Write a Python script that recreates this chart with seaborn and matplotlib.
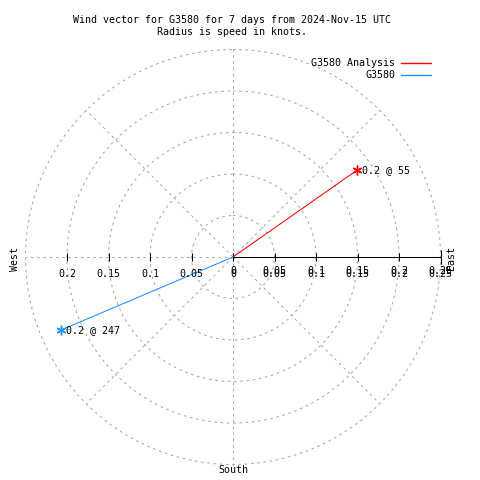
import numpy as np
import pandas as pd
import matplotlib
matplotlib.use("Agg")
import matplotlib.pyplot as plt
import seaborn as sns
from matplotlib.lines import Line2D

# ---- data ----
series = ["G3580 Analysis", "G3580"]
directions = [55, 247]          # degrees, compass
speeds = [0.183, 0.225]         # knots
point_labels = ["0.2 @ 55", "0.2 @ 247"]
colors = ["#ff0000", "#1e90ff"]
ring_values = [0.05, 0.1, 0.15, 0.2, 0.25]
tick_labels_east = ["0", "0.05", "0.1", "0.15", "0.2", "0.25"]
tick_labels_west = ["0", "0.05", "0.1", "0.15", "0.2"]
title = "Wind vector for G3580 for 7 days from 2024-Nov-15 UTC\nRadius is speed in knots."

sns.set_style("white")
plt.rcParams["font.family"] = ["DejaVu Sans Mono"]
plt.rcParams["text.color"] = "black"
FS = 7.2

fig = plt.figure(figsize=(4.8, 4.8), dpi=100)
cx, cy, R = 233, 257, 207.5
ax = fig.add_axes([(cx - R) / 480, (480 - cy - R) / 480, 2 * R / 480, 2 * R / 480],
                  projection="polar")
ax.set_theta_zero_location("N")
ax.set_theta_direction(-1)
ax.set_ylim(0, 0.25)
ax.grid(False)
ax.set_xticks([])
ax.set_yticks([])
ax.spines["polar"].set_visible(False)
ax.patch.set_alpha(0)

dash = (0, (2.5, 3.5))
gcol = "#a8a8a8"
LW = 0.75
th = np.linspace(0, 2 * np.pi, 400)
for rv in ring_values:
    ax.plot(th, np.full_like(th, rv), color=gcol, lw=LW, ls=dash, clip_on=False)
for a in [0, 45, 135, 180, 225, 270, 315]:
    ax.plot([np.deg2rad(a)] * 2, [0, 0.25], color=gcol, lw=LW, ls=dash, clip_on=False)

# east axis solid black
east = np.deg2rad(90)
west = np.deg2rad(270)
ax.plot([east, east], [0, 0.25], color="black", lw=LW, clip_on=False)
ax.plot([east] * 5, ring_values[:4] + [0.0], ls="none", marker="|", ms=6, mew=LW,
        color="black", clip_on=False)
ax.plot([east], [0.25], ls="none", marker="|", ms=10, mew=LW, color="black", clip_on=False)
ax.plot([west] * 4, ring_values[:4], ls="none", marker="|", ms=6, mew=LW,
        color="black", clip_on=False)

# tick labels (east side appears doubled in the reference)
east_r = [0.0] + ring_values
for r, lab in zip(east_r, tick_labels_east):
    for dy in (-14, -17):
        ax.annotate(lab, xy=(east, r), xytext=(0, dy), textcoords="offset pixels",
                    ha="center", va="center", fontsize=FS, annotation_clip=False)
west_r = [0.0] + ring_values[:4]
for r, lab in zip(west_r[1:], tick_labels_west[1:]):
    ax.annotate(lab, xy=(west, r), xytext=(0, -17), textcoords="offset pixels",
                ha="center", va="center", fontsize=FS, annotation_clip=False)

# vectors
rows = []
for s, d, sp in zip(series, directions, speeds):
    rows.append({"series": s, "theta": 0.0, "r": 0.0})
    rows.append({"series": s, "theta": np.deg2rad(d), "r": sp})
df = pd.DataFrame(rows)
sns.lineplot(data=df, x="theta", y="r", hue="series", hue_order=series,
             palette=colors, sort=False, estimator=None, legend=False, lw=LW, ax=ax)
for s, d, sp, c, lab in zip(series, directions, speeds, colors, point_labels):
    ax.plot([np.deg2rad(d)], [sp], ls="none", marker=(6, 2, 0), ms=7, mew=1, color=c,
            clip_on=False)
    ax.annotate(lab, xy=(np.deg2rad(d), sp), xytext=(5, 0), textcoords="offset pixels",
                ha="left", va="center", fontsize=FS, annotation_clip=False)
ax.set_xlabel("")
ax.set_ylabel("")
ax.set_ylim(0, 0.25)

# compass labels
fig.text(15 / 480, 1 - 259 / 480, "West", rotation=90, ha="center", va="center", fontsize=FS)
fig.text(451 / 480, 1 - 258 / 480, "East", rotation=90, ha="center", va="center", fontsize=FS)
fig.text(233 / 480, 1 - 470 / 480, "South", ha="center", va="center", fontsize=FS)

fig.text(232 / 480, 1 - 26 / 480, title, ha="center", va="center", fontsize=FS,
         linespacing=1.15)

handles = [Line2D([], [], color=c, lw=1) for c in colors]
fig.legend(handles, series, markerfirst=False, frameon=False, fontsize=FS,
           loc="upper right", bbox_to_anchor=(436 / 480, 1 - 53 / 480),
           handlelength=3.0, handletextpad=0.6, labelspacing=0.25, borderpad=0)

fig.savefig("out.png", dpi=100)
